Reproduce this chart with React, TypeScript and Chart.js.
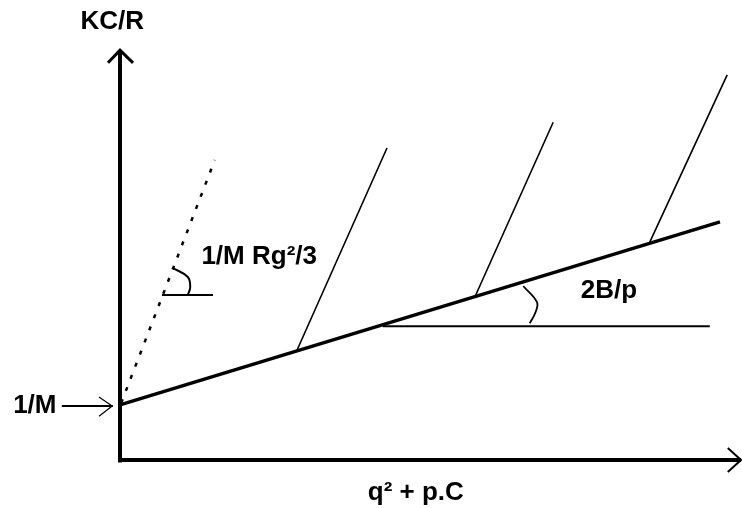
import React, { useEffect, useRef } from "react";
import { Chart, registerables } from "chart.js";

Chart.register(...registerables);

type P = { x: number; y: number };

// Zimm plot schematic (abstract units; y axis at x=0, x axis at y=0)
const yAxisLine: P[] = [{ x: 0, y: -0.04 }, { x: 0, y: 6.83 }];
const xAxisLine: P[] = [{ x: -0.03, y: 0 }, { x: 10.35, y: 0 }];
const yArrowHead: P[] = [{ x: -0.2, y: 6.62 }, { x: 0, y: 6.83 }, { x: 0.217, y: 6.62 }];
const xArrowHead: P[] = [{ x: 10.13, y: 0.2 }, { x: 10.35, y: 0 }, { x: 10.13, y: -0.2 }];

const interceptArrow: P[] = [{ x: -0.97, y: 0.9 }, { x: -0.12, y: 0.9 }];
const interceptArrowHead: P[] = [{ x: -0.35, y: 1.05 }, { x: -0.13, y: 0.9 }, { x: -0.35, y: 0.73 }];

const concentrationLine: P[] = [{ x: 0, y: 0.92 }, { x: 10, y: 3.97 }];
const angleLine: P[] = [{ x: 0.02, y: 0.95 }, { x: 1.58, y: 5.0 }];

const steepLine1: P[] = [{ x: 2.95, y: 1.83 }, { x: 4.45, y: 5.2 }];
const steepLine2: P[] = [{ x: 5.92, y: 2.73 }, { x: 7.22, y: 5.63 }];
const steepLine3: P[] = [{ x: 8.83, y: 3.63 }, { x: 10.12, y: 6.42 }];

const refLineB: P[] = [{ x: 4.38, y: 2.23 }, { x: 9.83, y: 2.23 }];
const refLineRg: P[] = [{ x: 0.7, y: 2.75 }, { x: 1.55, y: 2.75 }];
const arcRg: P[] = [{ x: 0.88, y: 3.2 }, { x: 1.13, y: 3.05 }, { x: 1.17, y: 2.88 }, { x: 1.13, y: 2.75 }];
const arcB: P[] = [{ x: 6.72, y: 2.9 }, { x: 6.95, y: 2.63 }, { x: 6.92, y: 2.45 }, { x: 6.83, y: 2.28 }];

const labelTexts = ["KC/R", "1/M", "1/M Rg²/3", "2B/p", "q² + p.C"];
const labelX = [-0.13, -1.42, 2.32, 8.15, 4.93];
const labelY = [7.3, 0.9, 3.38, 2.82, -0.55];

const X_MIN = -2;
const X_MAX = 10.367;
const Y_MIN = -0.8;
const Y_MAX = 7.667;

const line = (data: P[], width: number, extra: any = {}) => ({
  data,
  showLine: true,
  borderColor: "#000",
  borderWidth: width,
  pointRadius: 0,
  fill: false,
  borderCapStyle: "butt",
  borderJoinStyle: "miter",
  ...extra,
});

const labelPlugin = {
  id: "labels",
  afterDatasetsDraw(chart: any) {
    const { ctx, scales } = chart;
    ctx.save();
    ctx.fillStyle = "#000";
    ctx.font = "bold 26px 'Liberation Sans', Arial, sans-serif";
    ctx.textAlign = "center";
    ctx.textBaseline = "middle";
    labelTexts.forEach((t, i) => {
      ctx.fillText(t, scales.x.getPixelForValue(labelX[i]), scales.y.getPixelForValue(labelY[i]));
    });
    ctx.restore();
  },
};

const bgPlugin = {
  id: "bg",
  beforeDraw(chart: any) {
    const { ctx, width, height } = chart;
    ctx.save();
    ctx.fillStyle = "#fff";
    ctx.fillRect(0, 0, width, height);
    ctx.restore();
  },
};

export default function App() {
  const ref = useRef<HTMLCanvasElement>(null);
  useEffect(() => {
    document.body.style.margin = "0";
    const chart = new Chart(ref.current!, {
      type: "scatter",
      data: {
        datasets: [
          line(yAxisLine, 4),
          line(xAxisLine, 4),
          line(yArrowHead, 3),
          line(xArrowHead, 2),
          line(interceptArrow, 2),
          line(interceptArrowHead, 1.2),
          line(concentrationLine, 3.5),
          line(angleLine, 2.5, { borderDash: [4, 9] }),
          line(steepLine1, 1.6),
          line(steepLine2, 1.6),
          line(steepLine3, 1.6),
          line(refLineB, 2),
          line(refLineRg, 2),
          line(arcRg, 2, { tension: 0.4 }),
          line(arcB, 1.8, { tension: 0.4 }),
        ] as any,
      },
      options: {
        animation: false,
        responsive: false,
        maintainAspectRatio: false,
        layout: { padding: 0 },
        plugins: { legend: { display: false }, tooltip: { enabled: false } },
        scales: {
          x: { type: "linear", display: false, min: X_MIN, max: X_MAX },
          y: { type: "linear", display: false, min: Y_MIN, max: Y_MAX },
        },
      },
      plugins: [bgPlugin, labelPlugin],
    });
    return () => chart.destroy();
  }, []);
  return <canvas ref={ref} width={742} height={508} style={{ display: "block" }} />;
}
